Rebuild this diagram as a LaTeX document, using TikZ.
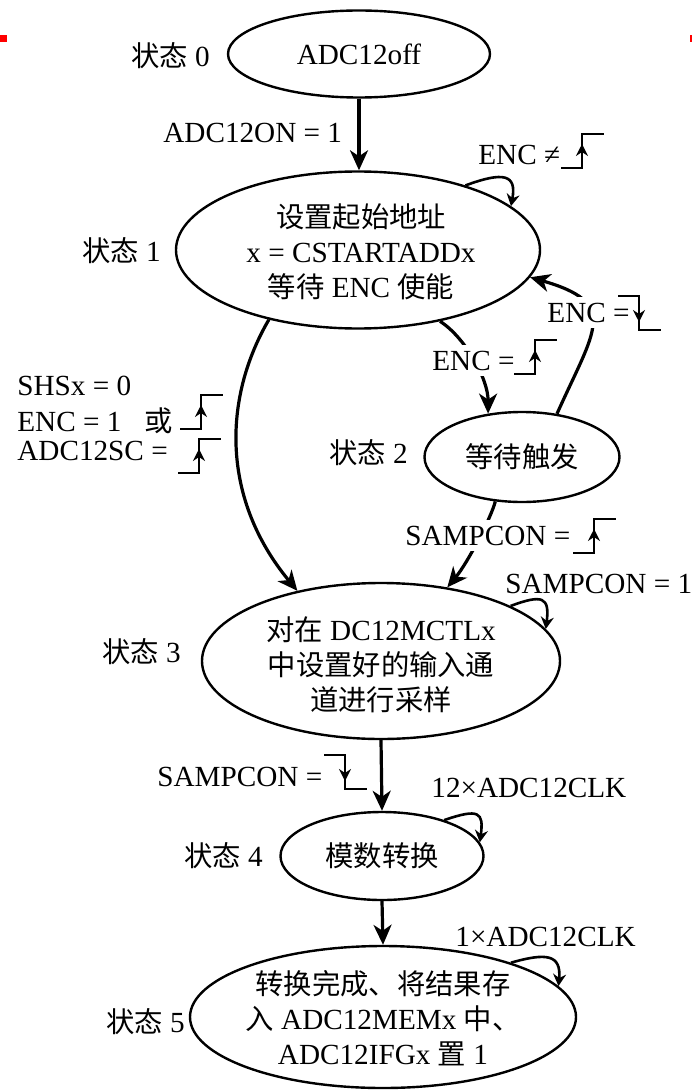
\documentclass[tikz,border=0pt]{standalone}
\usepackage{fontspec}
\setmainfont{Liberation Serif}
\newfontfamily\cjk[Scale=0.97]{Noto Sans CJK SC}
\usetikzlibrary{shapes.geometric,arrows.meta}
\newcommand{\zh}[1]{{\cjk #1}}
\begin{document}
\begin{tikzpicture}[x=0.5pt,y=-0.5pt,
  font=\fontsize{14.6}{17.5}\selectfont,
  every node/.style={inner sep=0pt},
  state/.style={draw, ellipse, line width=1.2pt, inner sep=0pt},
  arr/.style={line width=1.6pt, -{Stealth[length=10pt,width=9pt,inset=3pt]}},
  loopst/.style={line width=1.3pt, -{Stealth[length=6pt,width=6.5pt,inset=2pt]}},
  edgeln/.style={line width=1.4pt},
  edgearr/.style={line width=1.4pt, -{Stealth[length=6pt,width=6pt,inset=2pt]}},
  cover/.style={fill=white, inner xsep=0pt, inner ysep=3pt},
  redge/.pic={
    \draw[edgeln] (0,0) -- (21,0) -- (21,-34) -- (43,-34);
    \draw[edgearr] (21,-4) -- (21,-24);
  },
  fedge/.pic={
    \draw[edgeln] (0,0) -- (21,0) -- (21,34) -- (43,34);
    \draw[edgearr] (21,6) -- (21,26);
  }
]
\useasboundingbox (0,0) rectangle (692,1091);
\fill[red] (0,35) rectangle (7,42);
\fill[red] (690,35) rectangle (692,42);

% states
\node[state, minimum width=131pt, minimum height=43.5pt] (s0) at (359,54) {};
\node (t0) at (s0) {ADC12off};
\node[state, minimum width=182pt, minimum height=78.5pt] (s1) at (358,250) {};
\node[align=center] (t1) at (361,252) {\zh{设置起始地址}\\x = CSTARTADDx\\\zh{等待} ENC \zh{使能}};
\node[state, minimum width=97.5pt, minimum height=45pt] (s2) at (522,457) {};
\node (t2) at (s2) {\zh{等待触发}};
\node[state, minimum width=179pt, minimum height=78pt] (s3) at (381,661) {};
\node[align=center] (t3) at (381,665) {\zh{对在} DC12MCTLx\\\zh{中设置好的输入通}\\\zh{道进行采样}};
\node[state, minimum width=101.5pt, minimum height=44pt] (s4) at (382,856) {};
\node (t4) at (s4) {\zh{模数转换}};
\node[state, minimum width=193pt, minimum height=71pt] (s5) at (383,1017) {};
\node[align=center] (t5) at (383,1018) {\zh{转换完成、将结果存}\\\zh{入} ADC12MEMx \zh{中、}\\ADC12IFGx \zh{置} 1};

% state names
\node[anchor=base east] (n0) at (210,67) {\zh{状态} 0};
\node[anchor=base east] (n1) at (161,262) {\zh{状态} 1};
\node[anchor=base east] (n2) at (408,463) {\zh{状态} 2};
\node[anchor=base east] (n3) at (181,662) {\zh{状态} 3};
\node[anchor=base east] (n4) at (263,866) {\zh{状态} 4};
\node[anchor=base east] (n5) at (185,1032) {\zh{状态} 5};

% connectors
\draw[arr] (s0.south) -- (s0.south |- s1.north);
\node[anchor=base west] (c01) at (163,143) {ADC12ON = 1};

\draw[loopst] (s1.31) .. controls +(38,-14) and +(6,-32) .. (s1.16);
\node[anchor=base west] (c11) at (478,165) {ENC ≠};
\pic at (561,168) {redge};

\draw[arr] (s1.-41) .. controls +(25,16) and +(0,-35) .. (s2.128);
\node[cover, anchor=base west] (c12) at (432,370) {ENC =};
\pic at (514,374) {redge};

\draw[arr] (s2.51) .. controls +(38,-85) and +(90,26) .. (s1.-9);
\node[cover, anchor=base west] (c21) at (547,322) {ENC =};
\pic at (618,296) {fedge};

\draw[arr] (s1.-142) .. controls (222,400) and (222,500) .. (s3.140);
\node[anchor=base west] (c13a) at (17,395) {SHSx = 0};
\node[anchor=base west] (c13b) at (17,431) {ENC = 1\hspace{0.8em}\zh{或}};
\pic at (180,429) {redge};
\node[anchor=base west] (c13c) at (17,460) {ADC12SC =};
\pic at (178,473) {redge};

\draw[arr] (s2.-121) .. controls +(-4,16) and +(20,-24) .. (s3.48);
\node[cover, anchor=base west] (c23) at (405,545) {SAMPCON =};
\pic at (573,553) {redge};

\draw[loopst] (s3.23) .. controls +(32,-12) and +(4,-32) .. (s3.11);
\node[anchor=base west] (c33) at (505,593) {SAMPCON = 1};

\draw[arr] (s3.south) -- (s4.north);
\node[anchor=base west] (c34) at (157,786) {SAMPCON =};
\pic at (324,755) {fedge};

\draw[loopst] (s4.30) .. controls +(35,-12) and +(4,-30) .. (s4.8);
\node[anchor=base west] (c44) at (431,797) {12×ADC12CLK};

\draw[arr] (s4.south) -- (s5.north);
\draw[loopst] (s5.23) .. controls +(35,-10) and +(3,-32) .. (s5.10);
\node[anchor=base west] (c55) at (455,946) {1×ADC12CLK};
\end{tikzpicture}
\end{document}
